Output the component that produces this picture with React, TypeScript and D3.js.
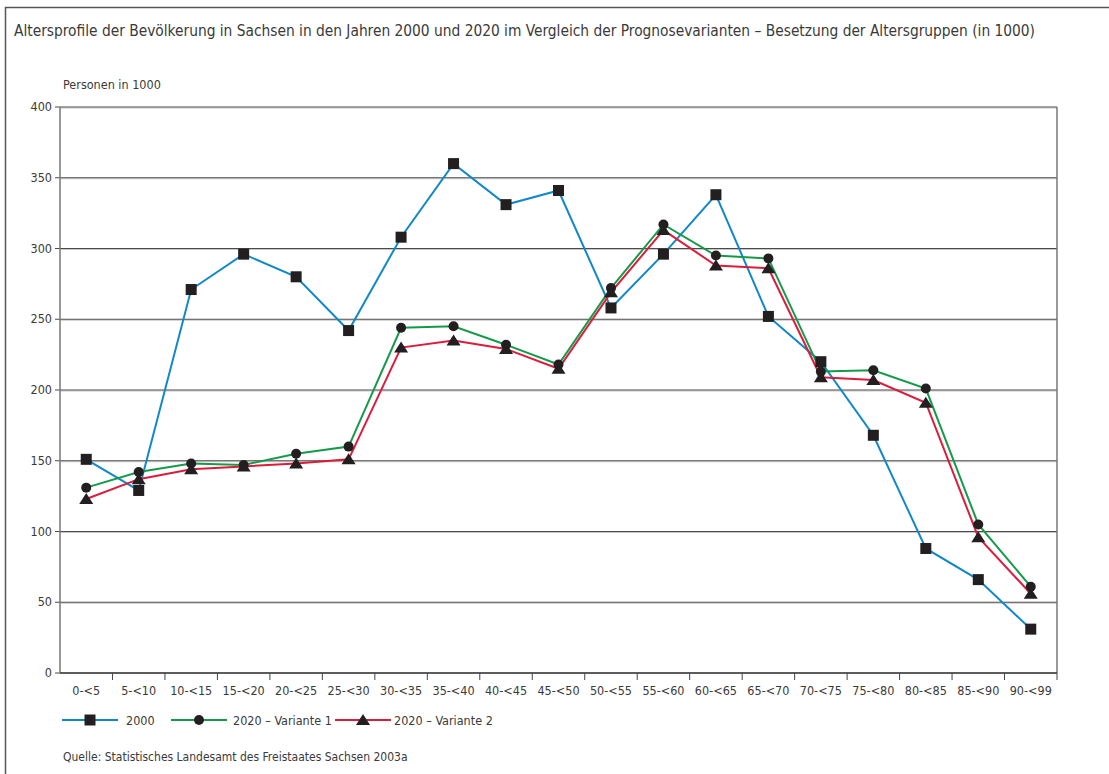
import React from "react";
import * as d3 from "d3";

const categories = ["0-<5","5-<10","10-<15","15-<20","20-<25","25-<30","30-<35","35-<40","40-<45","45-<50","50-<55","55-<60","60-<65","65-<70","70-<75","75-<80","80-<85","85-<90","90-<99"];
const values2000 = [151,129,271,296,280,242,308,360,331,341,258,296,338,252,220,168,88,66,31];
const valuesV1 = [131,142,148,147,155,160,244,245,232,218,272,317,295,293,213,214,201,105,61];
const valuesV2 = [123,137,144,146,148,151,230,235,229,215,269,313,288,286,209,207,191,96,56];
const yTicks = [0,50,100,150,200,250,300,350,400];

const FONT = "'Liberation Sans Narrow', 'DejaVu Sans Condensed', 'Roboto Condensed', sans-serif";
const TEXT = "#3a3a3a";

const series = [
  { name: "2000", values: values2000, color: "#1188c8", marker: "square" },
  { name: "2020 – Variante 1", values: valuesV1, color: "#169a4a", marker: "circle" },
  { name: "2020 – Variante 2", values: valuesV2, color: "#dc1c3c", marker: "triangle" },
];

function Marker({ type, x, y }: { type: string; x: number; y: number }) {
  const fill = "#231f20";
  if (type === "square") return <rect x={x - 5.5} y={y - 5.5} width={11} height={11} fill={fill} />;
  if (type === "circle") return <circle cx={x} cy={y} r={5} fill={fill} />;
  return <path d={`M${x},${y - 6} L${x + 7},${y + 5} L${x - 7},${y + 5} Z`} fill={fill} />;
}

export default function App() {
  const W = 1109, H = 774;
  const left = 60, right = 1057, top = 107, bottom = 673;
  const x = d3.scaleBand().domain(categories).range([left, right]);
  const y = d3.scaleLinear().domain([0, 400]).range([bottom, top]);
  const cx = (c: string) => (x(c) as number) + x.bandwidth() / 2;
  const line = d3.line<number>().x((_, i) => cx(categories[i])).y((d) => y(d));

  return (
    <svg width={W} height={H} style={{ position: "absolute", left: 0, top: 0 }} fontFamily={FONT}>
      <rect width={W} height={H} fill="#fff" />
      {/* outer frame */}
      <line x1={5} x2={W} y1={7.5} y2={7.5} stroke="#555" strokeWidth={1.5} />
      <line x1={5.5} x2={5.5} y1={7} y2={H} stroke="#555" strokeWidth={1.5} />
      <text x={14} y={36} fontSize={16} fill={TEXT} textLength={1021} lengthAdjust="spacingAndGlyphs">Altersprofile der Bevölkerung in Sachsen in den Jahren 2000 und 2020 im Vergleich der Prognosevarianten – Besetzung der Altersgruppen (in 1000)</text>
      <text x={63} y={89} fontSize={12.5} fill={TEXT}>Personen in 1000</text>

      {/* grid */}
      {yTicks.map((t) => (
        <g key={t}>
          {t > 0 && <line x1={left} x2={right} y1={y(t) + 1} y2={y(t) + 1} stroke="#c8c8c8" strokeWidth={1} />}
          <line x1={left - 5} x2={right} y1={y(t)} y2={y(t)} stroke="#4a4a4a" strokeWidth={1.2} />
          <text x={left - 8} y={y(t) + 4} fontSize={12.5} fill={TEXT} textAnchor="end">{t}</text>
        </g>
      ))}
      <line x1={left} x2={left} y1={top} y2={bottom} stroke="#777" strokeWidth={1.5} />
      <line x1={right} x2={right} y1={top} y2={bottom} stroke="#777" strokeWidth={1.5} />
      <line x1={left} x2={right} y1={bottom} y2={bottom} stroke="#444" strokeWidth={1.5} />
      {categories.map((c, i) => (
        <g key={c}>
          {i > 0 && <line x1={x(c) as number} x2={x(c) as number} y1={bottom} y2={bottom + 7} stroke="#444" strokeWidth={1} />}
          <text x={cx(c)} y={bottom + 22} fontSize={12.5} fill={TEXT} textAnchor="middle">{c}</text>
        </g>
      ))}
      <line x1={right} x2={right} y1={bottom} y2={bottom + 7} stroke="#444" strokeWidth={1} />

      {/* series lines */}
      {series.map((s) => (
        <path key={s.name} d={line(s.values) || ""} fill="none" stroke={s.color} strokeWidth={2} />
      ))}
      {series.map((s) => (
        <g key={s.name + "m"}>
          {s.values.map((v, i) => (
            <Marker key={i} type={s.marker} x={cx(categories[i])} y={y(v)} />
          ))}
        </g>
      ))}

      {/* legend */}
      {series.map((s, i) => {
        const starts = [62, 171, 335];
        const textX = [126, 233, 394];
        const lx = starts[i];
        const ly = 720;
        return (
          <g key={s.name + "l"}>
            <line x1={lx} x2={lx + 56} y1={ly} y2={ly} stroke={s.color} strokeWidth={2} />
            <Marker type={s.marker} x={lx + 28} y={ly} />
            <text x={textX[i]} y={ly + 4.5} fontSize={12.5} fill={TEXT}>{s.name}</text>
          </g>
        );
      })}
      <text x={63} y={761} fontSize={12} fill={TEXT}>Quelle: Statistisches Landesamt des Freistaates Sachsen 2003a</text>
    </svg>
  );
}
